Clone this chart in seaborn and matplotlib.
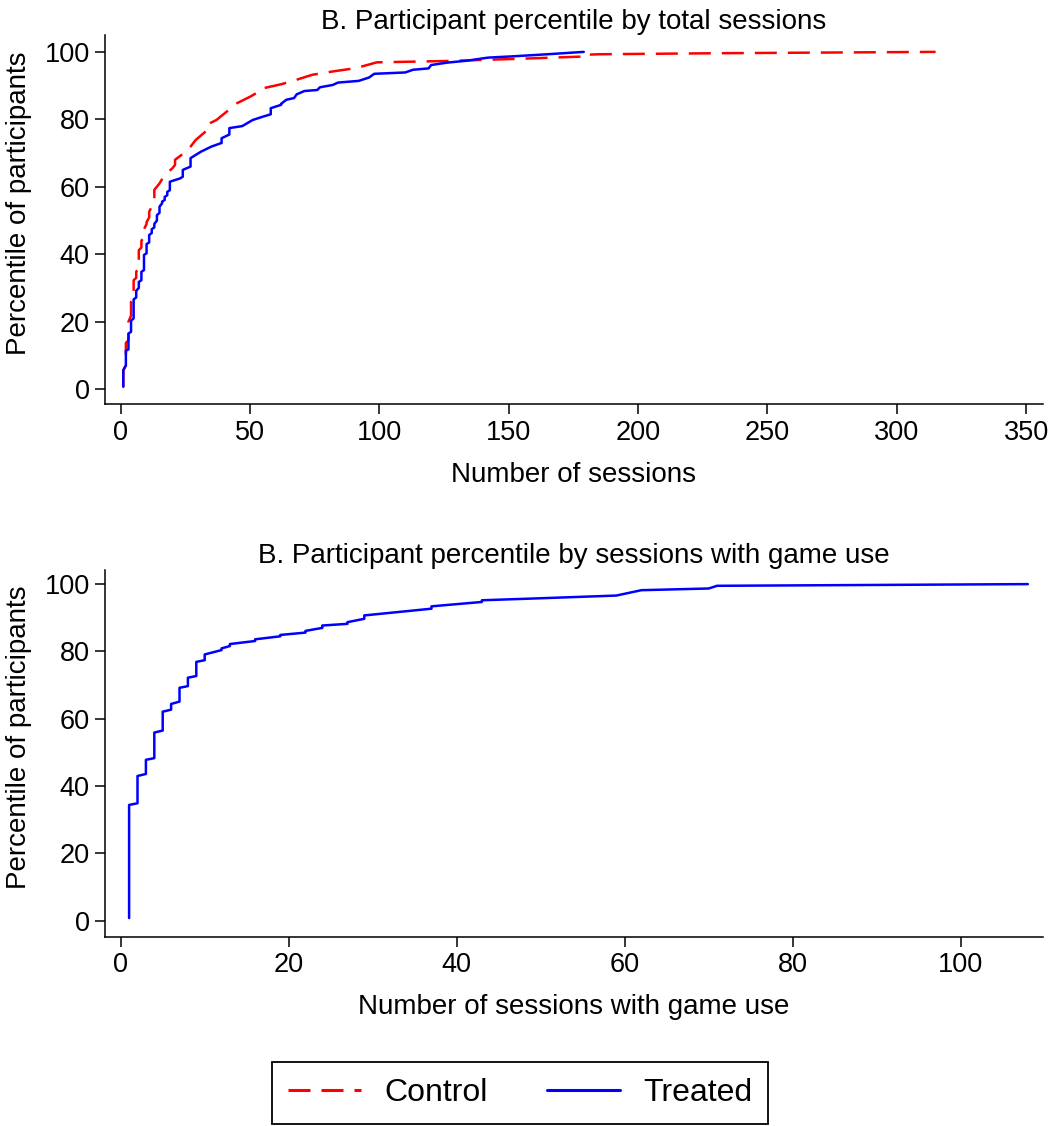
import matplotlib
matplotlib.use("Agg")
import matplotlib.pyplot as plt
from matplotlib.lines import Line2D
import seaborn as sns

# Panel B (top): cumulative percentile of participants by total number of sessions
total_control_sessions = [1, 1, 2, 2, 3, 3, 4, 4, 5, 5, 6, 6, 7, 7, 8, 8, 9, 9, 10, 10,
                          11, 11, 13, 13, 15, 17, 20, 21, 21, 26, 29, 33, 33, 37, 41,
                          45, 50, 55, 55, 62, 67, 74, 82, 91, 99, 126, 152, 178, 178,
                          185, 230, 315]
total_control_pct = [0.7, 5.6, 7.0, 13.7, 14.5, 20.0, 21.8, 25.9, 27.0, 32.3, 33.0, 34.8,
                     36.0, 41.2, 42.0, 44.0, 45.0, 47.4, 49.0, 49.5, 50.9, 52.6, 55.6,
                     59.1, 61.0, 63.5, 65.5, 66.5, 68.0, 70.9, 73.9, 76.5, 78.3, 79.8,
                     82.3, 84.8, 86.7, 88.9, 89.2, 90.4, 91.5, 93.2, 94.2, 95.2, 96.9,
                     97.3, 97.9, 98.6, 99.1, 99.3, 99.6, 100.0]

total_treated_sessions = [1, 1, 2, 2, 3, 3, 4, 4, 5, 5, 6, 6, 7, 7, 8, 8, 9, 9, 10, 10,
                          11, 11, 12, 12, 13, 13, 14, 14, 15, 15, 16, 16, 17, 17, 18, 18,
                          19, 19, 23, 24, 24, 27, 27, 31, 35, 39, 39, 42, 42, 47, 51, 55,
                          58, 58, 62, 62, 64, 67, 68, 71, 76, 77, 82, 84, 92, 96, 98, 110,
                          113, 119, 120, 126, 134, 142, 152, 165, 179]
total_treated_pct = [0.7, 5.6, 7.1, 11.4, 11.8, 16.5, 17.0, 20.3, 21.0, 26.6, 27.2, 29.2,
                     30.0, 31.8, 32.3, 34.8, 35.3, 39.8, 40.3, 43.0, 43.5, 45.7, 46.3,
                     47.4, 48.0, 49.0, 50.0, 51.6, 52.3, 54.1, 55.1, 55.6, 56.1, 57.0,
                     57.5, 58.5, 59.0, 61.5, 62.5, 63.0, 65.0, 66.0, 68.5, 70.4, 71.9,
                     73.0, 74.4, 75.5, 77.4, 78.0, 79.8, 80.8, 81.5, 83.3, 84.3, 84.6,
                     85.8, 86.3, 87.4, 88.4, 88.7, 89.5, 90.2, 90.9, 91.4, 92.4, 93.5,
                     93.9, 94.7, 95.1, 96.1, 96.8, 97.4, 98.3, 98.7, 99.3, 100.0]

# Panel B (bottom): treated participants by sessions with game use
game_treated_sessions = [1, 1, 2, 2, 3, 3, 4, 4, 5, 5, 6, 6, 7, 7, 8, 8, 9, 9, 10, 10,
                         12, 12, 13, 13, 16, 16, 19, 19, 22, 22, 24, 24, 27, 27, 29, 29,
                         37, 37, 43, 43, 50, 59, 62, 70, 71, 86, 108]
game_treated_pct = [0.8, 34.4, 34.9, 43.0, 43.6, 47.8, 48.3, 55.9, 56.5, 62.1, 62.7, 64.4,
                    65.1, 69.2, 69.7, 72.2, 72.7, 76.9, 77.4, 79.1, 80.4, 80.9, 81.6, 82.2,
                    83.1, 83.6, 84.5, 84.9, 85.6, 86.1, 87.0, 87.7, 88.2, 88.7, 89.7, 90.7,
                    92.7, 93.4, 94.7, 95.2, 95.8, 96.6, 98.2, 98.7, 99.5, 99.7, 100.0]

top_xticks = [0, 50, 100, 150, 200, 250, 300, 350]
bottom_xticks = [0, 20, 40, 60, 80, 100]
yticks = [0, 20, 40, 60, 80, 100]
legend_labels = ["Control", "Treated"]

sns.set_style("ticks")
plt.rcParams["font.family"] = ["Liberation Sans", "DejaVu Sans"]
plt.rcParams["text.color"] = "black"
plt.rcParams["axes.labelcolor"] = "black"

RED = "#ff0000"
BLUE = "#0000ff"
LW = 1.8
DASH = (0, (8.8, 4.4))

fig = plt.figure(figsize=(10.5, 11.26), dpi=100)
ax1 = fig.add_axes([0.1, 0.6409, 0.8933, 0.328])
ax2 = fig.add_axes([0.1, 0.1681, 0.8933, 0.3257])

sns.lineplot(x=total_control_sessions, y=total_control_pct, ax=ax1, sort=False,
             estimator=None, color=RED, lw=LW, linestyle=DASH)
sns.lineplot(x=total_treated_sessions, y=total_treated_pct, ax=ax1, sort=False,
             estimator=None, color=BLUE, lw=LW)
sns.lineplot(x=game_treated_sessions, y=game_treated_pct, ax=ax2, sort=False,
             estimator=None, color=BLUE, lw=LW)

ax1.set_xlim(-6.07, 356.5)
ax1.set_ylim(-4.5, 105)
ax2.set_xlim(-1.87, 109.8)
ax2.set_ylim(-4.75, 104.2)

ax1.set_xticks(top_xticks)
ax2.set_xticks(bottom_xticks)

ax1.set_title("B. Participant percentile by total sessions", fontsize=20, pad=3.6,
              color="black")
ax2.set_title("B. Participant percentile by sessions with game use", fontsize=20, pad=5,
              color="black")
ax1.set_xlabel("Number of sessions", fontsize=20)
ax2.set_xlabel("Number of sessions with game use", fontsize=20)

for ax in (ax1, ax2):
    ax.set_yticks(yticks)
    ax.set_ylabel("Percentile of participants", fontsize=20)
    ax.yaxis.set_label_coords(-0.078, 0.545)
    ax.xaxis.set_label_coords(0.5, -0.155)
    sns.despine(ax=ax)
    for side in ("left", "bottom"):
        ax.spines[side].set_linewidth(1.1)
        ax.spines[side].set_color("black")
    ax.tick_params(axis="both", length=7, width=1.1, pad=4, labelsize=19.5,
                   colors="black", direction="out")

handles = [Line2D([], [], color=RED, lw=2.2, linestyle=(0, (7.2, 3.6))),
           Line2D([], [], color=BLUE, lw=2.2)]
leg = fig.legend(handles, legend_labels, loc="center", ncol=2,
                 bbox_to_anchor=(520 / 1050, 1 - 1093 / 1126),
                 fontsize=23, frameon=True, fancybox=False, edgecolor="black",
                 framealpha=1, handlelength=2.3, handletextpad=0.72,
                 columnspacing=1.85, borderpad=0.5, borderaxespad=0)
leg.get_frame().set_linewidth(1.3)

fig.savefig("out.png", dpi=100)
